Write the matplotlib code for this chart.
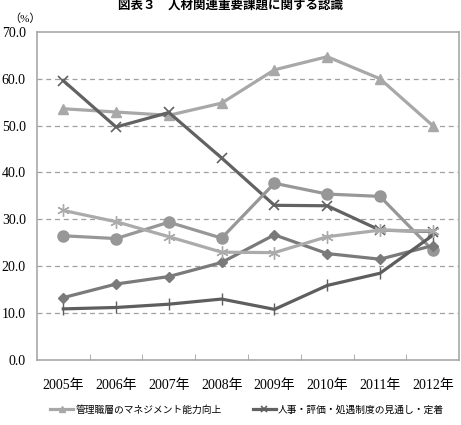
import numpy as np
import matplotlib.pyplot as plt

plt.rcParams['font.family'] = ['Liberation Serif', 'DejaVu Serif', 'Noto Sans CJK JP']

years = ['2005年', '2006年', '2007年', '2008年', '2009年', '2010年', '2011年', '2012年']
management = [53.6, 52.9, 52.2, 54.8, 61.9, 64.7, 60.0, 50.0]
hr_system = [59.6, 49.7, 52.8, 43.1, 33.0, 32.9, 27.7, 27.4]
circle_s = [26.5, 25.9, 29.4, 26.0, 37.7, 35.4, 34.9, 23.4]
diamond_s = [13.3, 16.2, 17.8, 20.8, 26.7, 22.7, 21.5, 24.4]
plus_s = [10.9, 11.2, 11.9, 13.0, 10.8, 15.9, 18.5, 26.6]
star_s = [31.9, 29.5, 26.3, 23.0, 22.9, 26.3, 27.7, 27.5]

fig = plt.figure(figsize=(4.61, 4.25), dpi=100)
ax = fig.add_axes([0.080, 0.153, 0.916, 0.772])
x = np.arange(len(years))

lw = 2.3
l1, = ax.plot(x, management, color='#a8a8a8', lw=lw, marker='^', ms=7, label='管理職層のマネジメント能力向上')
l2, = ax.plot(x, hr_system, color='#626262', lw=lw, marker='x', ms=7, mew=1.2, label='人事・評価・処遇制度の見通し・定着')
ax.plot(x, circle_s, color='#979797', lw=lw, marker='o', ms=8)
ax.plot(x, diamond_s, color='#7a7a7a', lw=lw, marker='D', ms=5.5)
ax.plot(x, plus_s, color='#5e5e5e', lw=lw, marker='|', ms=9, mew=1.0)
ax.plot(x, star_s, color='#ababab', lw=lw, marker=(6, 2, 0), ms=9, mew=1.0)

ax.set_xlim(-0.5, 7.5)
ax.set_ylim(0, 70)
ax.set_yticks(np.arange(0, 71, 10))
ax.set_yticklabels([f'{v:.1f}' for v in np.arange(0, 71, 10)], fontsize=10)
ax.set_xticks(x)
ax.set_xticklabels(years, fontsize=10)
ax.set_xticks(np.arange(0.5, 7.5, 1), minor=True)
ax.tick_params(axis='x', which='major', length=0, pad=14)
ax.tick_params(axis='x', which='minor', length=4, direction='in', color='#a0a0a0')
ax.tick_params(axis='y', length=0, pad=8)
for v in range(10, 70, 10):
    ax.axhline(v, color='#a0a0a0', lw=0.9, ls=(0, (4, 3)), zorder=0)
for s in ax.spines.values():
    s.set_color('#a8a8a8')
    s.set_linewidth(1.2)

fig.text(0.055, 0.955, '（%）', fontsize=8, ha='center', va='center')
fig.text(0.5, 0.986, '図表３　人材関連重要課題に関する認識', fontsize=9, fontweight='bold',
         ha='center', va='center')

fig.legend(handles=[l1, l2], loc='center', bbox_to_anchor=(0.536, 0.036), ncol=2,
           frameon=False, fontsize=7, handlelength=2.4, columnspacing=3.2,
           handletextpad=0.2, markerscale=0.6)

fig.savefig('out.png', dpi=100)
